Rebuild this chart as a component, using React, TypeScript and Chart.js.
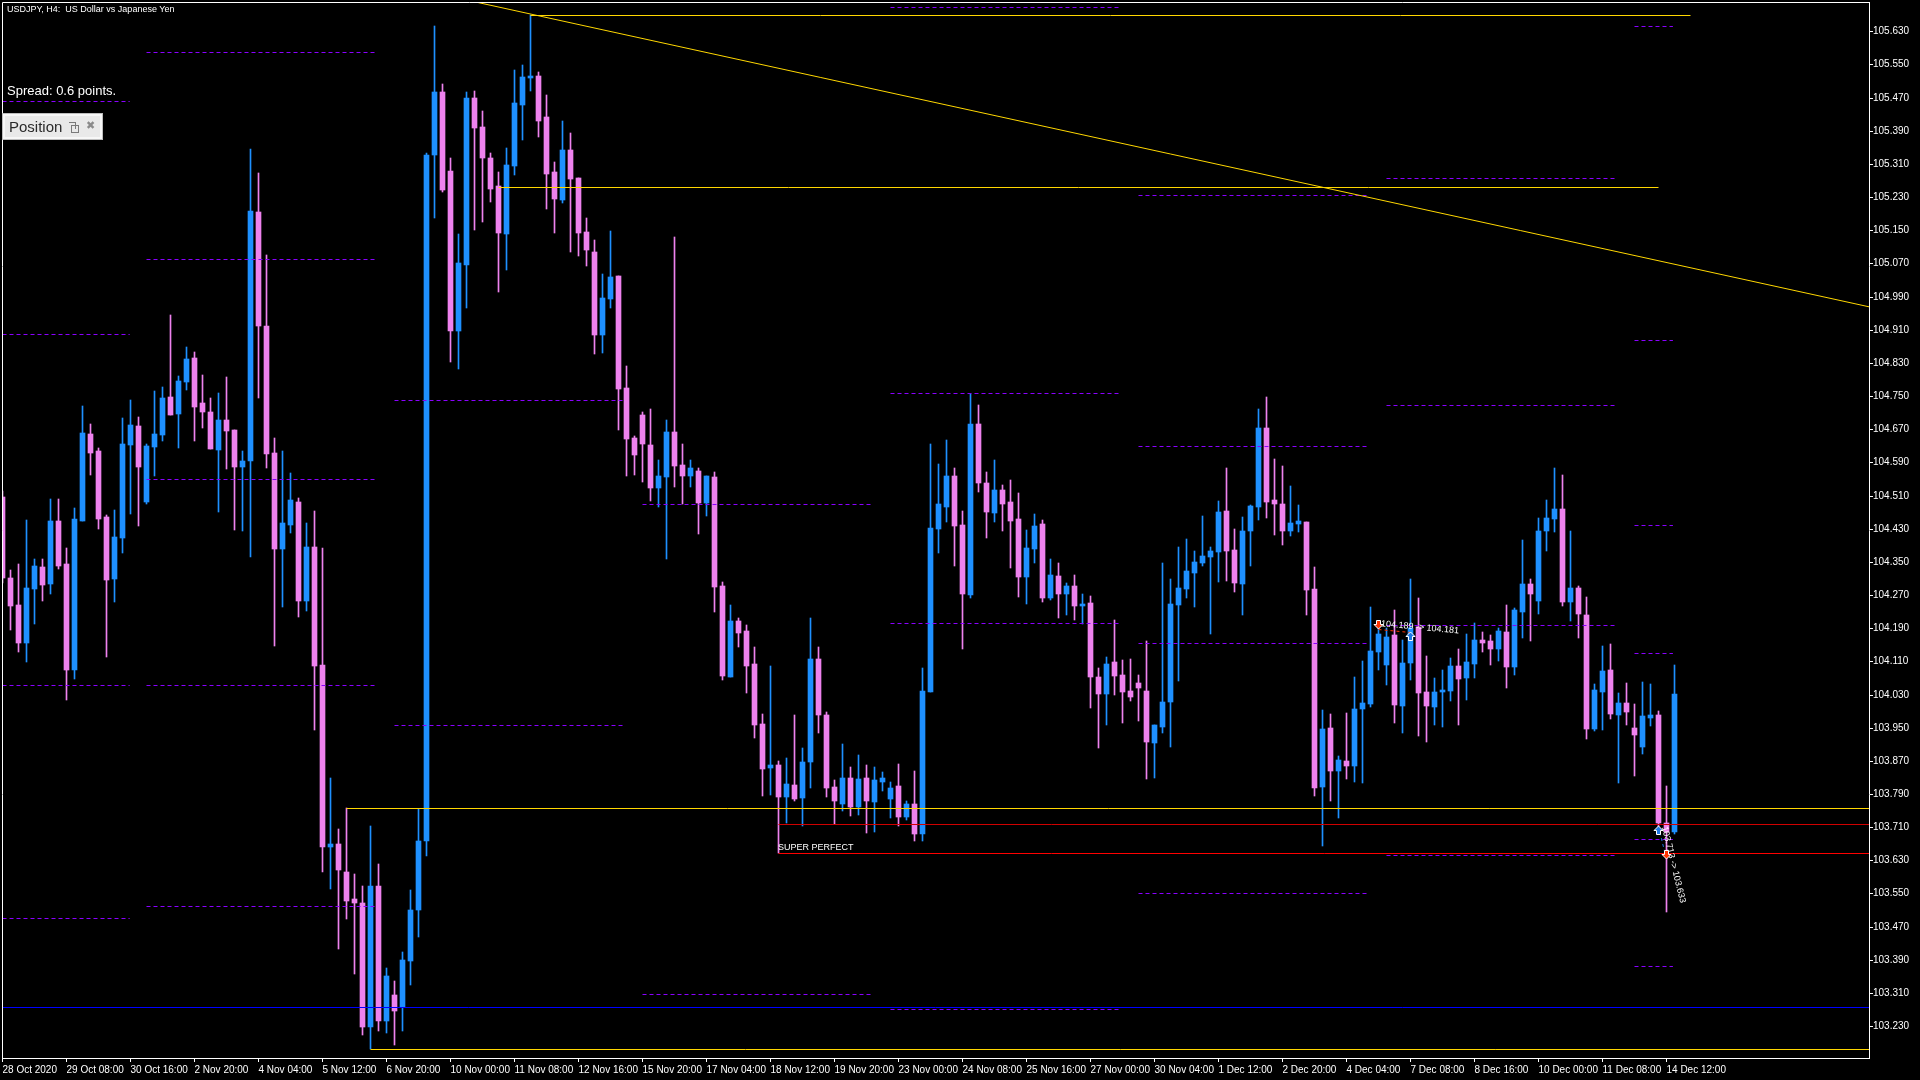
import React, { useEffect, useRef } from "react";
import { Chart, registerables } from "chart.js";

Chart.register(...registerables);

// ---------- DATA ----------
const opens = [
  104.507, 104.311, 104.246, 104.154, 104.285, 104.337, 104.297, 104.449, 104.345, 104.089,
  104.449, 104.658, 104.617, 104.458, 104.308, 104.408, 104.632, 104.678, 104.494, 104.627,
  104.656, 104.748, 104.707, 104.784, 104.842, 104.734, 104.712, 104.620, 104.693, 104.668,
  104.578, 104.594, 105.194, 104.919, 104.612, 104.381, 104.439, 104.494, 104.255, 104.386,
  104.101, 103.662, 103.670, 103.602, 103.536, 103.526, 103.228, 103.568, 103.242, 103.305,
  103.276, 103.387, 103.510, 103.677, 105.331, 105.484, 105.294, 104.908, 105.066, 105.470,
  105.399, 105.324, 105.256, 105.141, 105.306, 105.452, 105.518, 105.522, 105.424, 105.291,
  105.223, 105.344, 105.276, 105.145, 105.097, 104.897, 104.984, 105.040, 104.770, 104.649,
  104.705, 104.632, 104.529, 104.555, 104.663, 104.584, 104.557, 104.569, 104.491, 104.555,
  104.291, 104.072, 104.207, 104.183, 104.104, 103.959, 103.853, 103.860, 103.783, 103.812,
  103.780, 103.867, 104.116, 103.981, 103.807, 103.766, 103.829, 103.759, 103.829, 103.771,
  103.819, 103.778, 103.809, 103.735, 103.766, 103.694, 104.036, 104.429, 104.482, 104.557,
  104.439, 104.270, 104.683, 104.540, 104.468, 104.523, 104.494, 104.453, 104.313, 104.381,
  104.441, 104.263, 104.316, 104.272, 104.292, 104.244, 104.251, 104.072, 104.031, 104.108,
  104.077, 104.038, 104.058, 104.038, 103.913, 103.952, 104.012, 104.246, 104.285, 104.323,
  104.347, 104.362, 104.374, 104.473, 104.379, 104.297, 104.424, 104.482, 104.673, 104.499,
  104.490, 104.424, 104.441, 104.446, 104.285, 103.807, 103.949, 103.845, 103.870, 103.858,
  103.995, 104.007, 104.133, 104.101, 104.174, 104.002, 104.106, 104.193, 104.036, 104.000,
  104.036, 104.038, 104.099, 104.070, 104.104, 104.162, 104.159, 104.140, 104.181, 104.096,
  104.229, 104.297, 104.256, 104.425, 104.453, 104.478, 104.253, 104.287, 104.222, 103.947,
  104.036, 104.089, 103.981, 104.010, 103.949, 103.903, 103.973, 103.981, 103.720, 103.698,
];

const highs = [
  104.520, 104.330, 104.345, 104.451, 104.357, 104.357, 104.501, 104.501, 104.384, 104.480,
  104.726, 104.683, 104.625, 104.463, 104.475, 104.697, 104.741, 104.700, 104.635, 104.763,
  104.772, 104.946, 104.799, 104.869, 104.857, 104.801, 104.745, 104.757, 104.796, 104.668,
  104.617, 105.345, 105.289, 105.090, 104.649, 104.617, 104.565, 104.504, 104.444, 104.473,
  104.384, 103.828, 103.706, 103.757, 103.597, 103.568, 103.712, 103.622, 103.370, 103.339,
  103.408, 103.559, 103.754, 105.336, 105.643, 105.502, 105.324, 105.140, 105.484, 105.486,
  105.438, 105.336, 105.291, 105.349, 105.537, 105.549, 105.669, 105.532, 105.477, 105.314,
  105.414, 105.384, 105.276, 105.180, 105.127, 105.045, 105.148, 105.040, 104.823, 104.653,
  104.711, 104.718, 104.595, 104.693, 105.133, 104.635, 104.595, 104.577, 104.557, 104.567,
  104.301, 104.246, 104.215, 104.198, 104.145, 103.983, 104.099, 103.870, 103.877, 103.981,
  103.901, 104.215, 104.145, 103.988, 103.824, 103.911, 103.855, 103.884, 103.860, 103.855,
  103.843, 103.819, 103.862, 103.773, 103.846, 104.094, 104.634, 104.586, 104.644, 104.577,
  104.473, 104.755, 104.728, 104.567, 104.596, 104.535, 104.548, 104.516, 104.427, 104.465,
  104.451, 104.357, 104.347, 104.299, 104.318, 104.272, 104.268, 104.094, 104.120, 104.210,
  104.113, 104.116, 104.077, 104.159, 103.956, 104.347, 104.309, 104.386, 104.405, 104.376,
  104.461, 104.386, 104.497, 104.576, 104.429, 104.458, 104.487, 104.719, 104.748, 104.598,
  104.581, 104.533, 104.487, 104.446, 104.338, 103.993, 103.983, 103.882, 103.985, 104.072,
  104.111, 104.241, 104.200, 104.190, 104.234, 104.162, 104.309, 104.263, 104.123, 104.070,
  104.089, 104.118, 104.140, 104.176, 104.203, 104.181, 104.174, 104.191, 104.246, 104.239,
  104.403, 104.309, 104.456, 104.499, 104.576, 104.560, 104.425, 104.292, 104.265, 104.055,
  104.147, 104.152, 104.034, 104.058, 104.007, 104.060, 104.055, 103.990, 103.809, 104.101,
];

const lows = [
  104.300, 104.186, 104.133, 104.108, 104.200, 104.256, 104.272, 104.333, 104.017, 104.067,
  104.449, 104.559, 104.429, 104.121, 104.253, 104.372, 104.465, 104.436, 104.490, 104.557,
  104.642, 104.705, 104.625, 104.764, 104.642, 104.673, 104.622, 104.471, 104.574, 104.427,
  104.424, 104.362, 104.746, 104.576, 104.147, 104.240, 104.420, 104.216, 104.231, 103.945,
  103.602, 103.560, 103.417, 103.489, 103.355, 103.208, 103.174, 103.218, 103.213, 103.184,
  103.218, 103.329, 103.446, 103.641, 105.179, 105.242, 104.832, 104.816, 104.963, 105.150,
  105.169, 105.218, 105.001, 105.054, 105.283, 105.368, 105.486, 105.374, 105.201, 105.143,
  105.216, 105.097, 105.088, 105.064, 104.851, 104.854, 104.962, 104.668, 104.557, 104.560,
  104.542, 104.497, 104.482, 104.356, 104.530, 104.489, 104.530, 104.417, 104.461, 104.228,
  104.065, 104.072, 104.145, 104.034, 103.925, 103.785, 103.788, 103.647, 103.720, 103.773,
  103.713, 103.804, 103.937, 103.783, 103.718, 103.749, 103.737, 103.739, 103.696, 103.698,
  103.797, 103.732, 103.713, 103.727, 103.677, 103.677, 104.036, 104.371, 104.446, 104.340,
  104.140, 104.263, 104.519, 104.408, 104.446, 104.424, 104.335, 104.265, 104.248, 104.347,
  104.253, 104.258, 104.215, 104.222, 104.210, 104.200, 103.997, 103.901, 103.956, 104.029,
  103.961, 104.014, 103.966, 103.826, 103.829, 103.937, 103.903, 104.063, 104.263, 104.241,
  104.340, 104.176, 104.301, 104.304, 104.277, 104.222, 104.340, 104.451, 104.456, 104.415,
  104.391, 104.412, 104.422, 104.222, 103.785, 103.665, 103.773, 103.732, 103.826, 103.819,
  103.817, 104.000, 104.089, 104.053, 103.961, 103.937, 104.065, 103.930, 103.915, 103.956,
  103.952, 104.014, 103.956, 104.017, 104.070, 104.133, 104.101, 104.111, 104.046, 104.077,
  104.166, 104.159, 104.224, 104.376, 104.422, 104.244, 104.207, 104.166, 103.923, 103.942,
  103.944, 103.971, 103.817, 103.956, 103.833, 103.887, 103.954, 103.703, 103.505, 103.694,
];

const closes = [
  104.311, 104.244, 104.154, 104.287, 104.340, 104.294, 104.449, 104.340, 104.089, 104.453,
  104.661, 104.613, 104.453, 104.307, 104.410, 104.635, 104.680, 104.578, 104.629, 104.658,
  104.745, 104.705, 104.786, 104.840, 104.724, 104.712, 104.622, 104.693, 104.665, 104.578,
  104.593, 105.197, 104.919, 104.610, 104.381, 104.444, 104.499, 104.255, 104.386, 104.098,
  103.662, 103.670, 103.607, 103.531, 103.526, 103.228, 103.568, 103.242, 103.350, 103.266,
  103.389, 103.510, 103.677, 105.331, 105.484, 105.247, 104.908, 105.071, 105.470, 105.397,
  105.324, 105.249, 105.143, 105.308, 105.457, 105.520, 105.522, 105.414, 105.286, 105.225,
  105.344, 105.274, 105.143, 105.102, 104.897, 104.987, 105.037, 104.768, 104.647, 104.608,
  104.635, 104.529, 104.557, 104.663, 104.582, 104.557, 104.577, 104.491, 104.557, 104.289,
  104.075, 104.207, 104.178, 104.099, 103.956, 103.850, 103.860, 103.783, 103.814, 103.778,
  103.867, 104.116, 103.981, 103.804, 103.773, 103.829, 103.759, 103.826, 103.773, 103.824,
  103.829, 103.805, 103.735, 103.766, 103.694, 104.039, 104.432, 104.490, 104.557, 104.437,
  104.273, 104.683, 104.540, 104.470, 104.523, 104.490, 104.449, 104.313, 104.383, 104.437,
  104.263, 104.318, 104.272, 104.292, 104.244, 104.248, 104.072, 104.031, 104.104, 104.075,
  104.036, 104.024, 104.046, 103.915, 103.956, 104.012, 104.248, 104.287, 104.328, 104.350,
  104.364, 104.376, 104.470, 104.376, 104.299, 104.424, 104.485, 104.673, 104.494, 104.490,
  104.424, 104.444, 104.449, 104.282, 103.804, 103.947, 103.845, 103.872, 103.858, 103.995,
  104.010, 104.135, 104.176, 104.169, 104.005, 104.106, 104.190, 104.034, 104.002, 104.036,
  104.041, 104.099, 104.067, 104.108, 104.162, 104.154, 104.140, 104.183, 104.096, 104.234,
  104.297, 104.273, 104.425, 104.456, 104.478, 104.253, 104.287, 104.224, 103.947, 104.041,
  104.087, 103.983, 104.010, 103.988, 103.932, 103.978, 103.981, 103.720, 103.698, 104.031,
];

const xLabelBars = [0, 8, 16, 24, 32, 40, 48, 56, 64, 72, 80, 88, 96, 104, 112, 120, 128, 136, 144, 152, 160, 168, 176, 184, 192, 200, 208];
const xLabels = [
  "28 Oct 2020", "29 Oct 08:00", "30 Oct 16:00", "2 Nov 20:00", "4 Nov 04:00", "5 Nov 12:00",
  "6 Nov 20:00", "10 Nov 00:00", "11 Nov 08:00", "12 Nov 16:00", "15 Nov 20:00", "17 Nov 04:00",
  "18 Nov 12:00", "19 Nov 20:00", "23 Nov 00:00", "24 Nov 08:00", "25 Nov 16:00", "27 Nov 00:00",
  "30 Nov 04:00", "1 Dec 12:00", "2 Dec 20:00", "4 Dec 04:00", "7 Dec 08:00", "8 Dec 16:00",
  "10 Dec 00:00", "11 Dec 08:00", "14 Dec 12:00",
];

const yTicks = [
  103.23, 103.31, 103.39, 103.47, 103.55, 103.63, 103.71, 103.79, 103.87, 103.95, 104.03,
  104.11, 104.19, 104.27, 104.35, 104.43, 104.51, 104.59, 104.67, 104.75, 104.83, 104.91,
  104.99, 105.07, 105.15, 105.23, 105.31, 105.39, 105.47, 105.55, 105.63,
];

// dashed level groups (bar ranges and price levels)
const levelGroupStart = [-14, 18, 49, 80, 111, 142, 173, 204];
const levelGroupEnd = [15.9, 46.8, 77.8, 108.8, 139.8, 170.8, 201.8, 208.8];
const levelGroupA = [105.462, 104.899, 104.053, 103.49];
const levelGroupB = [105.581, 105.081, 104.55, 104.052, 103.521];
const levelGroupC = [104.741, 103.957];
const levelGroupD = [104.49, 103.307];
const levelGroupE = [105.688, 104.757, 104.202, 103.271];
const levelGroupF = [105.236, 104.629, 104.154, 103.552];
const levelGroupG = [105.277, 104.728, 104.197, 103.644];
const levelGroupH = [105.643, 104.885, 104.438, 104.129, 103.681, 103.375];
const levelGroups = [levelGroupA, levelGroupB, levelGroupC, levelGroupD, levelGroupE, levelGroupF, levelGroupG, levelGroupH];

// horizontal objects
const hLineLevels = [105.669, 105.255, 103.757, 103.174, 103.275, 103.717, 103.647];
const hLineStart = [66, 62, 43, 46, -2, 97, 97];
const hLineEnd = [211, 207, 240, 240, 240, 240, 240];
const hLineColors = ["#FFD700", "#FFD700", "#FFD700", "#FFD700", "#0000FF", "#D00000", "#FF0000"];

// trend line
const trendBars = [40, 240];
const trendPrices = [105.783, 104.9395];

// trades
const tradeOpenBar = [172, 207];
const tradeOpenPrice = [104.189, 103.713];
const tradeCloseBar = [176, 208];
const tradeClosePrice = [104.181, 103.633];
const tradeType = ["sell", "buy"];

const superBar = 97;
const superPrice = 103.647;
const superText = "SUPER PERFECT";

// ---------- STYLE ----------
const BULL = "#1E90FF";
const BEAR = "#EE82EE";
const PURPLE = "#8A00FF";
const FONT = "'Liberation Sans', Arial, sans-serif";

function drawArrow(ctx: CanvasRenderingContext2D, cx: number, tipY: number, up: boolean) {
  const s = up ? 1 : -1;
  ctx.beginPath();
  ctx.moveTo(cx, tipY);
  ctx.lineTo(cx + 4.5, tipY + s * 4.5);
  ctx.lineTo(cx + 2, tipY + s * 4.5);
  ctx.lineTo(cx + 2, tipY + s * 8.5);
  ctx.lineTo(cx - 2, tipY + s * 8.5);
  ctx.lineTo(cx - 2, tipY + s * 4.5);
  ctx.lineTo(cx - 4.5, tipY + s * 4.5);
  ctx.closePath();
  ctx.fillStyle = up ? "#1E78E6" : "#FF3300";
  ctx.fill();
  ctx.strokeStyle = "#FFFFFF";
  ctx.lineWidth = 1;
  ctx.stroke();
}

const overlayPlugin = {
  id: "mtOverlay",
  afterLayout(chart: any) {
    const ys = chart.scales.y;
    if (ys && !ys.__rounded) {
      const orig = ys.getPixelForValue.bind(ys);
      ys.getPixelForValue = (v: number, i?: number) => Math.round(orig(v, i));
      ys.__rounded = true;
    }
  },
  beforeDatasetDraw(chart: any, args: any) {
    if (args.meta.type === "line") {
      chart.ctx.save();
      chart.ctx.translate(0, 0.5);
    }
  },
  afterDatasetDraw(chart: any, args: any) {
    if (args.meta.type === "line") {
      chart.ctx.restore();
    }
  },
  afterDatasetsDraw(chart: any) {
    const { ctx, chartArea, scales } = chart;
    const xs = scales.x;
    const ys = scales.y;
    ctx.save();
    ctx.beginPath();
    ctx.rect(chartArea.left, chartArea.top, chartArea.right - chartArea.left, chartArea.bottom - chartArea.top);
    ctx.clip();

    ctx.font = `9px ${FONT}`;
    ctx.fillStyle = "#FFFFFF";
    ctx.textAlign = "left";
    ctx.textBaseline = "alphabetic";
    ctx.fillText(superText, xs.getPixelForValue(superBar) - 0.5, ys.getPixelForValue(superPrice) - 3);

    for (let i = 0; i < tradeOpenBar.length; i++) {
      const x1 = xs.getPixelForValue(tradeOpenBar[i]);
      const y1 = ys.getPixelForValue(tradeOpenPrice[i]);
      const x2 = xs.getPixelForValue(tradeCloseBar[i]);
      const y2 = ys.getPixelForValue(tradeClosePrice[i]);
      const ang = Math.atan2(y2 - y1, x2 - x1);
      ctx.save();
      ctx.translate(x1, y1);
      ctx.rotate(ang);
      ctx.fillStyle = "#FFFFFF";
      ctx.font = `9px ${FONT}`;
      ctx.fillText(`${tradeOpenPrice[i].toFixed(3)} -> ${tradeClosePrice[i].toFixed(3)}`, 2, -3);
      ctx.restore();
      const buy = tradeType[i] === "buy";
      drawArrow(ctx, x1, y1, buy);
      drawArrow(ctx, x2, y2, !buy);
    }
    ctx.restore();
  },
  afterDraw(chart: any) {
    const { ctx, chartArea } = chart;
    ctx.save();
    ctx.strokeStyle = "#FFFFFF";
    ctx.lineWidth = 1;
    ctx.beginPath();
    ctx.moveTo(chartArea.left + 0.5, chartArea.bottom + 0.5);
    ctx.lineTo(chartArea.left + 0.5, chartArea.top + 0.5);
    ctx.lineTo(chartArea.right + 0.5, chartArea.top + 0.5);
    ctx.stroke();
    ctx.restore();
  },
};

export default function App() {
  const canvasRef = useRef<HTMLCanvasElement | null>(null);

  useEffect(() => {
    const canvas = canvasRef.current;
    if (!canvas) return;

    const colors = opens.map((o, i) => (closes[i] >= o ? BULL : BEAR));
    const bodyData = opens.map((o, i) => ({ x: i, y: [o, closes[i]] }));
    const wickData = lows.map((l, i) => ({ x: i, y: [l, highs[i]] }));

    const levelPoints: any[] = [];
    levelGroups.forEach((vals, g) => {
      vals.forEach((v) => {
        levelPoints.push({ x: levelGroupStart[g], y: v });
        levelPoints.push({ x: levelGroupEnd[g], y: v });
        levelPoints.push({ x: levelGroupEnd[g], y: null });
      });
    });

    const hLineSets = hLineLevels.map((v, i) => ({
      type: "line" as const,
      data: [
        { x: hLineStart[i], y: v },
        { x: hLineEnd[i], y: v },
      ],
      borderColor: hLineColors[i],
      borderWidth: 1,
      pointRadius: 0,
      tension: 0,
      order: 1,
      clip: 0,
    }));

    const tradeSets = tradeOpenBar.map((b, i) => ({
      type: "line" as const,
      data: [
        { x: b, y: tradeOpenPrice[i] },
        { x: tradeCloseBar[i], y: tradeClosePrice[i] },
      ],
      borderColor: tradeType[i] === "buy" ? "#1E78E6" : "#FF3300",
      borderWidth: 1,
      borderDash: [3, 3],
      pointRadius: 0,
      order: 0,
      clip: 0,
    }));

    const chart = new Chart(canvas, {
      type: "bar",
      data: {
        datasets: [
          {
            type: "bar",
            data: bodyData as any,
            backgroundColor: colors,
            borderWidth: 0,
            barThickness: 5,
            minBarLength: 1,
            grouped: false,
            order: 10,
            clip: 0,
          } as any,
          {
            type: "bar",
            data: wickData as any,
            backgroundColor: colors,
            borderWidth: 0,
            barThickness: 1,
            grouped: false,
            order: 11,
            clip: 0,
          } as any,
          {
            type: "line",
            data: levelPoints,
            borderColor: PURPLE,
            borderWidth: 1,
            borderDash: [4, 3],
            pointRadius: 0,
            spanGaps: false,
            order: 5,
            clip: 0,
          } as any,
          ...(hLineSets as any[]),
          {
            type: "line",
            data: trendBars.map((b, i) => ({ x: b, y: trendPrices[i] })),
            borderColor: "#FFD700",
            borderWidth: 1,
            pointRadius: 0,
            order: 1,
            clip: 0,
          } as any,
          ...(tradeSets as any[]),
        ],
      },
      options: {
        animation: false,
        responsive: false,
        maintainAspectRatio: false,
        devicePixelRatio: 1,
        events: [],
        layout: { padding: { left: 2, top: 2, right: 0, bottom: 0 } },
        plugins: { legend: { display: false }, tooltip: { enabled: false }, title: { display: false } },
        scales: {
          x: {
            type: "linear",
            position: "bottom",
            min: -0.0625,
            max: 233.3125,
            offset: false,
            bounds: "data",
            grid: { display: true, drawOnChartArea: false, drawTicks: true, tickLength: 4, color: "#FFFFFF", offset: false },
            border: { display: true, color: "#FFFFFF", width: 1 },
            ticks: {
              autoSkip: false,
              maxRotation: 0,
              minRotation: 0,
              align: "start",
              padding: 2,
              color: "#FFFFFF",
              font: { family: FONT, size: 10 },
              callback: (_v: any, idx: number) => xLabels[idx],
            },
            afterBuildTicks: (s: any) => {
              s.ticks = xLabelBars.map((v) => ({ value: v }));
            },
            afterFit: (s: any) => {
              s.height = 22;
              s.paddingLeft = 0;
              s.paddingRight = 0;
            },
          } as any,
          y: {
            type: "linear",
            position: "right",
            min: 103.1531,
            max: 105.7007,
            beginAtZero: false,
            bounds: "data",
            grid: { display: true, drawOnChartArea: false, drawTicks: true, tickLength: 4, color: "#FFFFFF" },
            border: { display: true, color: "#FFFFFF", width: 1 },
            ticks: {
              autoSkip: false,
              padding: 0,
              color: "#FFFFFF",
              font: { family: FONT, size: 10 },
              callback: (v: any) => Number(v).toFixed(3),
            },
            afterBuildTicks: (s: any) => {
              s.ticks = yTicks.map((v) => ({ value: v }));
            },
            afterFit: (s: any) => {
              s.width = 51;
              s.paddingTop = 0;
              s.paddingBottom = 0;
            },
          } as any,
        },
      },
      plugins: [overlayPlugin as any],
    });

    return () => {
      chart.destroy();
    };
  }, []);

  return (
    <div
      style={{
        position: "fixed",
        left: 0,
        top: 0,
        width: 1920,
        height: 1080,
        background: "#000000",
        overflow: "hidden",
      }}
    >
      <canvas ref={canvasRef} width={1920} height={1080} style={{ width: 1920, height: 1080, display: "block" }} />
      <div
        style={{
          position: "absolute",
          left: 7,
          top: 5,
          color: "#FFFFFF",
          font: `9px ${FONT}`,
          lineHeight: "9px",
          whiteSpace: "pre",
        }}
      >
        {"USDJPY, H4:  US Dollar vs Japanese Yen"}
      </div>
      <div
        style={{
          position: "absolute",
          left: 7,
          top: 84,
          color: "#FFFFFF",
          font: `13px ${FONT}`,
          lineHeight: "13px",
          whiteSpace: "pre",
        }}
      >
        Spread: 0.6 points.
      </div>
      <div
        style={{
          position: "absolute",
          left: 3,
          top: 114,
          width: 95,
          height: 21,
          background: "#E9E9E9",
          border: "2px solid #F7F7F7",
          boxShadow: "0 0 0 1px #BDBDBD",
          overflow: "hidden",
        }}
      >
        <span
          style={{
            position: "absolute",
            left: 4,
            top: 0,
            width: 57,
            height: 21,
            overflow: "hidden",
            whiteSpace: "nowrap",
            color: "#2A2A2A",
            font: `15px ${FONT}`,
            lineHeight: "21px",
          }}
        >
          Position Sizer
        </span>
        <span
          style={{
            position: "absolute",
            left: 66,
            top: 9,
            width: 6,
            height: 6,
            border: "1px solid #7A7A7A",
            background: "#E9E9E9",
          }}
        />
        <span
          style={{
            position: "absolute",
            left: 64,
            top: 6,
            width: 6,
            height: 6,
            borderTop: "1px solid #7A7A7A",
            borderRight: "1px solid #7A7A7A",
          }}
        />
        <span
          style={{
            position: "absolute",
            left: 81,
            top: 3,
            color: "#8A8A8A",
            font: `11px 'DejaVu Sans', sans-serif`,
            lineHeight: "14px",
          }}
        >
          ✖
        </span>
      </div>
    </div>
  );
}
